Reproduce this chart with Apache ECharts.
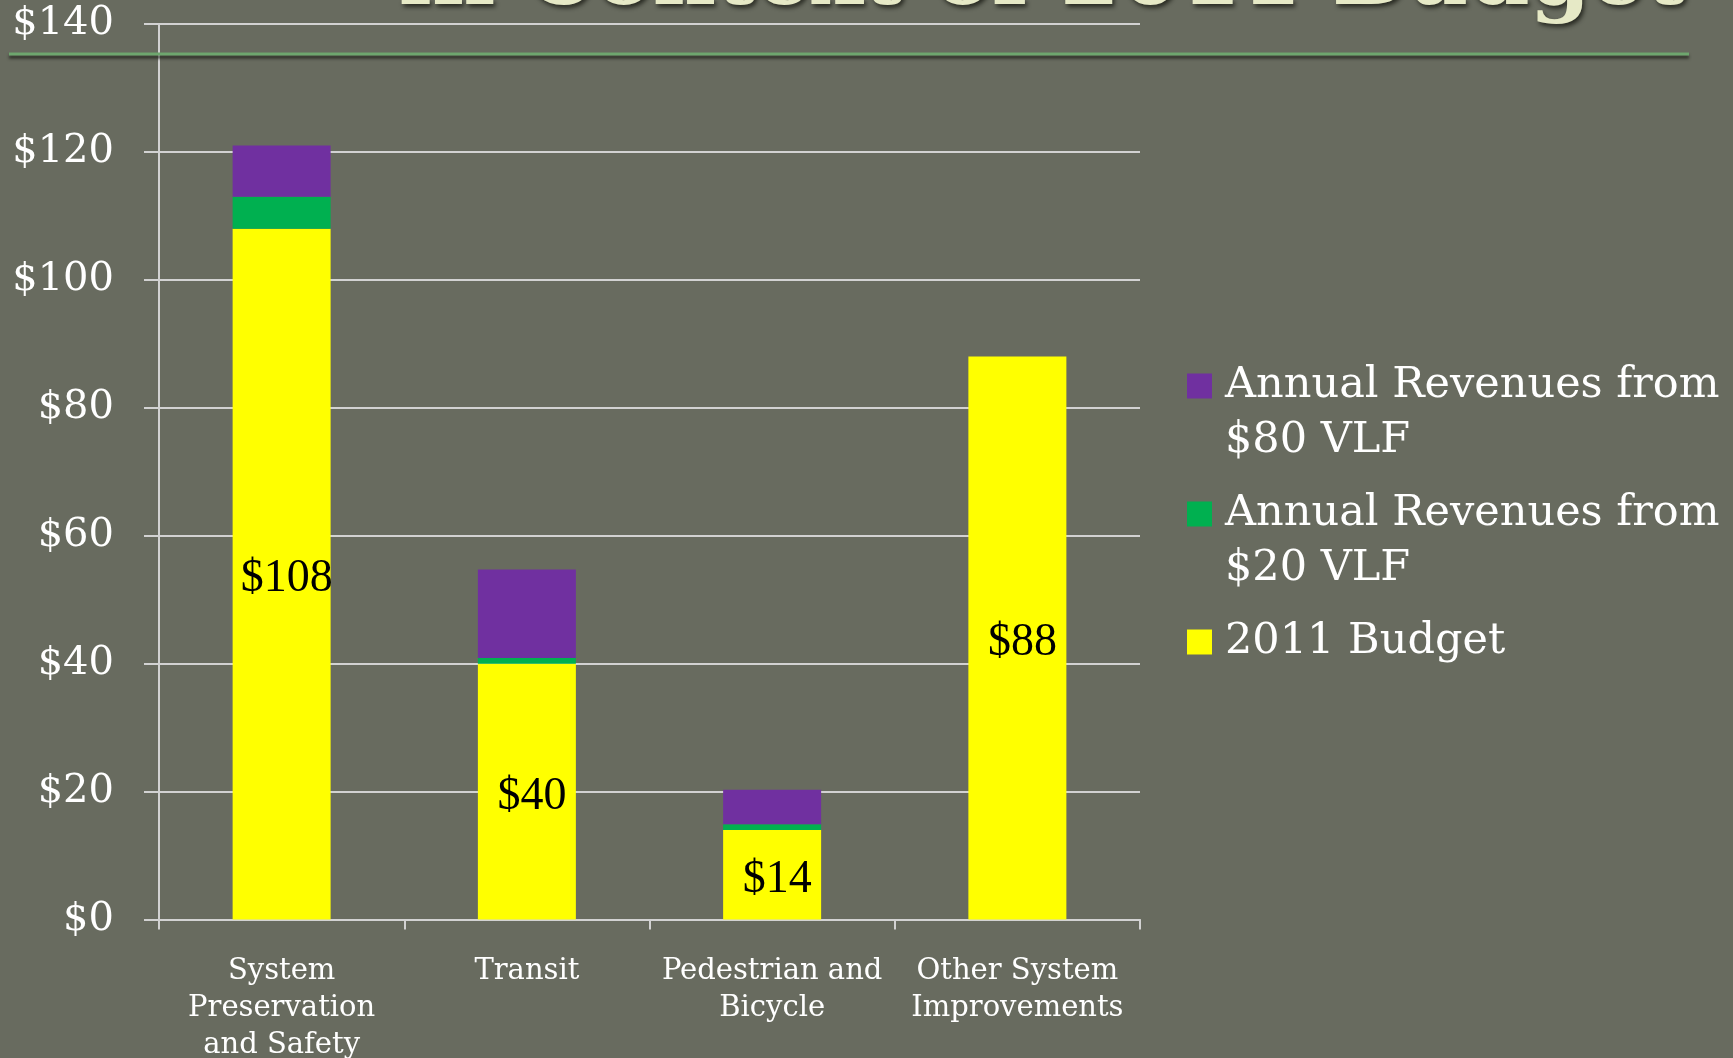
<!DOCTYPE html>
<html>
<head>
<meta charset="utf-8">
<title>In Context of 2011 Budget</title>
<script src="https://cdn.jsdelivr.net/npm/echarts@6/dist/echarts.min.js"></script>
<style>
  html, body { margin: 0; padding: 0; background: #686b5f; overflow: hidden; }
  #chart { width: 1733px; height: 1058px; }
</style>
</head>
<body>
<div id="chart"></div>
<script>
// Program categories (line breaks as laid out under the axis)
const categories = [
  'System\nPreservation\nand Safety',
  'Transit',
  'Pedestrian and\nBicycle',
  'Other System\nImprovements'
];

// Series names
const nameBudget = '2011 Budget';
const nameVlf20 = 'Annual Revenues from $20 VLF';
const nameVlf80 = 'Annual Revenues from $80 VLF';

// Values in $ millions
const budget2011 = [108, 40, 14, 88];
const vlf20 = [5, 0.9, 0.9, 0];
const vlf80 = [8, 13.8, 5.4, 0];

// Value axis ticks
const yMin = 0;
const yMax = 140;
const yStep = 20;

const chart = echarts.init(document.getElementById('chart'), null, { renderer: 'canvas' });

const serifFont = '"DejaVu Serif", "Liberation Serif", serif';
const gridColor = '#d2d2d2';

// One legend block per series so each entry can sit at its own height;
// a leading blank line keeps the swatch level with the first text line.
function legendBlock(name, top) {
  return {
    orient: 'vertical',
    left: 1187,
    top: top,
    padding: 0,
    itemWidth: 25,
    itemHeight: 25,
    icon: 'rect',
    data: [name],
    formatter: function (n) {
      return n.indexOf(' from ') >= 0 ? '\n' + n.replace(' from ', ' from\n') : n;
    },
    textStyle: {
      fontFamily: serifFont,
      fontSize: 43,
      lineHeight: 55,
      color: '#ffffff',
      padding: [0, 0, 0, 8]
    }
  };
}

const option = {
  backgroundColor: '#686b5f',
  animation: false,
  title: {
    text: 'in Context of 2011 Budget',
    right: 42,
    top: -67,
    textStyle: {
      fontFamily: serifFont,
      fontWeight: 'bold',
      fontSize: 87,
      lineHeight: 87,
      color: '#e6e9c6',
      textShadowColor: 'rgba(20,22,15,0.75)',
      textShadowBlur: 4,
      textShadowOffsetX: 2,
      textShadowOffsetY: 3
    }
  },
  graphic: [
    {
      type: 'line',
      shape: { x1: 9, y1: 54, x2: 1689, y2: 54 },
      style: {
        stroke: '#6ea66e',
        lineWidth: 3,
        shadowColor: 'rgba(25,27,20,0.8)',
        shadowBlur: 3,
        shadowOffsetY: 3
      },
      z: 10
    }
  ],
  legend: [
    legendBlock(nameVlf80, 303.5),
    legendBlock(nameVlf20, 431.5),
    legendBlock(nameBudget, 614.5)
  ],
  grid: {
    left: 159,
    right: 593,
    top: 24,
    bottom: 138.5,
    containLabel: false,
    outerBoundsMode: 'none'
  },
  xAxis: {
    type: 'category',
    data: categories,
    axisLine: { show: true, lineStyle: { color: gridColor, width: 2 } },
    axisTick: { show: true, length: 10, lineStyle: { color: gridColor, width: 2 } },
    axisLabel: {
      margin: 33,
      fontFamily: serifFont,
      fontSize: 29,
      lineHeight: 37,
      color: '#ffffff',
      interval: 0
    }
  },
  yAxis: {
    type: 'value',
    min: yMin,
    max: yMax,
    interval: yStep,
    axisLine: { show: true, lineStyle: { color: gridColor, width: 2 } },
    axisTick: { show: true, length: 15, lineStyle: { color: gridColor, width: 2 } },
    splitLine: { show: true, lineStyle: { color: gridColor, width: 2 } },
    axisLabel: {
      margin: 45,
      fontFamily: serifFont,
      fontSize: 40,
      color: '#ffffff',
      padding: [5, 0, 0, 0],
      formatter: '${value}'
    }
  },
  series: [
    {
      name: nameBudget,
      type: 'bar',
      stack: 'total',
      barWidth: 98,
      data: budget2011,
      itemStyle: { color: '#ffff00' },
      label: {
        show: true,
        position: 'inside',
        offset: [5, 5],
        formatter: '${c}',
        fontFamily: '"Liberation Serif", "DejaVu Serif", serif',
        fontSize: 46,
        color: '#000000'
      }
    },
    {
      name: nameVlf20,
      type: 'bar',
      stack: 'total',
      barWidth: 98,
      data: vlf20,
      itemStyle: { color: '#00b050' }
    },
    {
      name: nameVlf80,
      type: 'bar',
      stack: 'total',
      barWidth: 98,
      data: vlf80,
      itemStyle: { color: '#7030a0' }
    }
  ]
};

chart.setOption(option);
</script>
</body>
</html>
